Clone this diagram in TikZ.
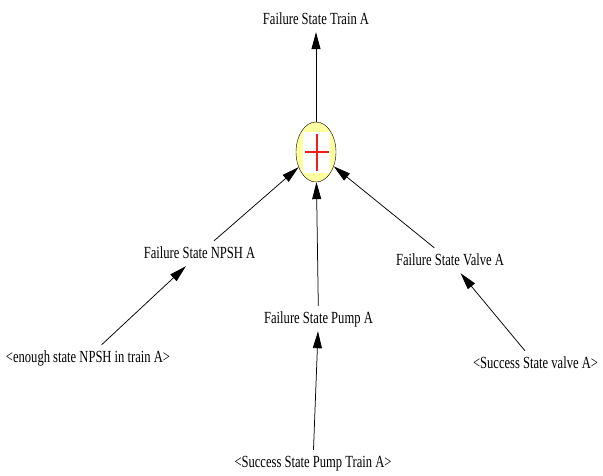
\documentclass[tikz,border=0pt]{standalone}
\usepackage{fontspec}
\setmainfont{Liberation Serif}[FakeStretch=0.74]
\usepackage{tikz}
\usetikzlibrary{positioning,arrows.meta,shapes.geometric}
\definecolor{gateyellow}{RGB}{255,255,160}
\definecolor{gatered}{RGB}{240,30,30}

\tikzset{
    state/.style={inner sep=4pt, text height=13pt, text depth=4pt,
        font=\fontsize{17pt}{19pt}\selectfont},
    link/.style={-{Triangle[length=17pt,width=9pt]}, line width=0.75pt},
}

\begin{document}
\begin{tikzpicture}[x=1pt,y=-1pt]
    \useasboundingbox (0,0) rectangle (603,475);

    % OR gate
    \node[ellipse, draw, fill=gateyellow, minimum width=40pt, minimum height=60pt, inner sep=0pt] (orgate) at (316,152) {};
    \fill[white] (303,132) rectangle (330,173);
    \draw[gatered, line width=1.6pt] (305,152) -- (329,152) (317,134) -- (317,171);

    % failure states
    \node[state] (train) at (316,19.5) {Failure State Train A};
    \node[state] (npsh) at (199.5,253.5) {Failure State NPSH A};
    \node[state] (pump) at (318.5,318.5) {Failure State Pump A};
    \node[state] (valve) at (450,260.5) {Failure State Valve A};

    % success states
    \node[state] (npshok) at (88,357.5) {<enough state NPSH in train A>};
    \node[state] (pumpok) at (313,462.5) {<Success State Pump Train A>};
    \node[state] (valveok) at (535.5,363.5) {<Success State valve A>};

    \draw[link] (orgate) -- (train);
    \draw[link] (npsh) -- (orgate);
    \draw[link] (pump) -- (orgate);
    \draw[link] (valve) -- (orgate);
    \draw[link] (npshok) -- (npsh);
    \draw[link] (pumpok) -- (pump);
    \draw[link] (valveok) -- (valve);
\end{tikzpicture}
\end{document}
